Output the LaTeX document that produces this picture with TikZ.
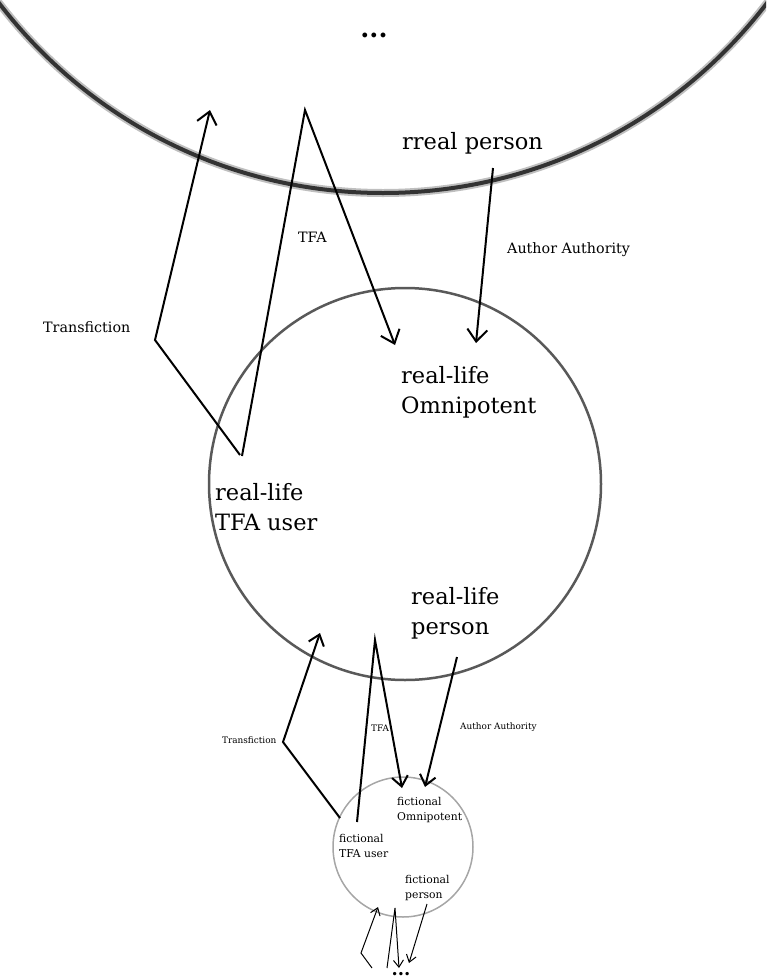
\documentclass[tikz,border=0pt]{standalone}
\usepackage{fontspec}
\setmainfont{DejaVu Serif}
\usetikzlibrary{arrows.meta}

\begin{document}
\begin{tikzpicture}[x=1pt, y=-1pt,
		lbl/.style={inner sep=0pt, align=left, anchor=west},
		bigtext/.style={font=\fontsize{22.5}{30}\selectfont},
		midtext/.style={font=\fontsize{14.3}{16}\selectfont},
		smalltext/.style={font=\fontsize{8.9}{10}\selectfont},
		tinytext/.style={font=\fontsize{10.8}{15}\selectfont},
		bigarrow/.style={line width=2pt, -{Straight Barb[length=12pt, width=20pt, line width=2pt]}},
		smallarrow/.style={line width=2pt, -{Straight Barb[length=10pt, width=16pt, line width=2pt]}},
		tinyarrow/.style={line width=1pt, -{Straight Barb[length=7pt, width=10pt, line width=1pt]}}]
		\useasboundingbox (0,0) rectangle (766,980);
		\clip (0,0) rectangle (766,980);
		
		% the three worlds
		\draw [line width=8pt, black!25] (383,-290) circle [radius=483];
		\draw [line width=4pt, black!80] (383,-290) circle [radius=483];
		\draw [line width=2.5pt, black!65] (405,484) circle [radius=196];
		\draw [line width=1.5pt, black!35] (403,847) circle [radius=70];
		
		\node (top dots) at (374,35) {\fontsize{26}{30}\selectfont\bfseries ...};
		\node (bottom dots) at (401,974) {\fontsize{18}{20}\selectfont\bfseries ...};
		
		% real world
		\node [lbl, bigtext] (rreal) at (402,143) {rreal person};
		\node [lbl, bigtext] (rl omni) at (401,392) {real-life\\Omnipotent};
		\node [lbl, bigtext] (rl user) at (215,507) {real-life\\TFA user};
		\node [lbl, bigtext] (rl person) at (411,613) {real-life\\person};
		\node [lbl, midtext] (trans 1) at (43,327) {Transfiction};
		\node [lbl, midtext] (tfa 1) at (298,237) {TFA};
		\node [lbl, midtext] (auth 1) at (507,250) {Author Authority};
		
		\coordinate (t1 start) at (240,455);
		\coordinate (t1 bend) at (155,340);
		\coordinate (t1 end) at (210,110);
		\coordinate (f1 start) at (242,456);
		\coordinate (f1 top) at (305,110);
		\coordinate (f1 end) at (395,345);
		\coordinate (a1 start) at (493,168);
		\coordinate (a1 end) at (476,343);
		
		\draw [bigarrow] (t1 start) -- (t1 bend) -- (t1 end);
		\draw [bigarrow] (f1 start) -- (f1 top) -- (f1 end);
		\draw [bigarrow] (a1 start) -- (a1 end);
		
		% fictional world
		\node [lbl, smalltext] (trans 2) at (222,740) {Transfiction};
		\node [lbl, smalltext] (tfa 2) at (371,728) {TFA};
		\node [lbl, smalltext] (auth 2) at (460,727) {Author Authority};
		\node [lbl, tinytext] (fc omni) at (397,810) {fictional\\Omnipotent};
		\node [lbl, tinytext] (fc user) at (339,846) {fictional\\TFA user};
		\node [lbl, tinytext] (fc person) at (405,888) {fictional\\person};
		
		\coordinate (t2 start) at (340,818);
		\coordinate (t2 bend) at (283,742);
		\coordinate (t2 end) at (320,633);
		\coordinate (f2 start) at (357,822);
		\coordinate (f2 top) at (375,640);
		\coordinate (f2 end) at (402,788);
		\coordinate (a2 start) at (457,657);
		\coordinate (a2 end) at (425,787);
		
		\draw [smallarrow] (t2 start) -- (t2 bend) -- (t2 end);
		\draw [smallarrow] (f2 start) -- (f2 top) -- (f2 end);
		\draw [smallarrow] (a2 start) -- (a2 end);
		
		% and further down
		\coordinate (t3 start) at (372,968);
		\coordinate (t3 bend) at (361,953);
		\coordinate (t3 end) at (378,907);
		\coordinate (f3 start) at (387,968);
		\coordinate (f3 top) at (395,908);
		\coordinate (f3 end) at (399,968);
		\coordinate (a3 start) at (427,904);
		\coordinate (a3 end) at (409,963);
		
		\draw [tinyarrow] (t3 start) -- (t3 bend) -- (t3 end);
		\draw [tinyarrow] (f3 start) -- (f3 top) -- (f3 end);
		\draw [tinyarrow] (a3 start) -- (a3 end);
	\end{tikzpicture}
\end{document}
